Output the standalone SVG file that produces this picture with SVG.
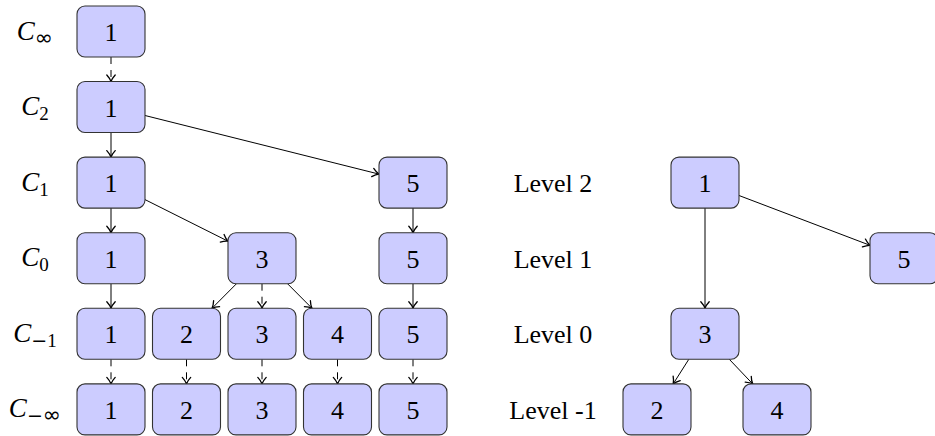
<svg xmlns="http://www.w3.org/2000/svg" width="935" height="436" viewBox="0 0 935 436">
<style>
.n rect{fill:#ccccff;stroke:#333;stroke-width:1.1}
.n text{font-family:"Liberation Serif","Times New Roman",serif;font-size:26px;text-anchor:middle;fill:#000}
.e line{stroke:#000;stroke-width:1;fill:none;marker-end:url(#arr)}
.e line.d{stroke-dasharray:7 6}
.lab{font-family:"Liberation Serif","Times New Roman",serif;font-size:26px;fill:#000;text-anchor:middle}
.cl{font-family:"Liberation Serif","Times New Roman",serif;font-style:italic;font-size:27px;fill:#000;text-anchor:middle}
.sub{font-style:normal;font-size:19px}
.inf{font-family:"DejaVu Sans",sans-serif;font-style:normal;font-size:22px}
</style>
<defs>
<marker id="arr" markerUnits="userSpaceOnUse" markerWidth="14" markerHeight="14" viewBox="-8 -7 14 14" refX="0" refY="0" orient="auto" overflow="visible">
<path d="M-6.5,-4.2 Q-3,-1 0,0 Q-3,1 -6.5,4.2" fill="none" stroke="#000" stroke-width="1.3" stroke-dasharray="none" stroke-linecap="round"/>
</marker>
</defs>
<rect width="935" height="436" fill="#fff"/>

<g id="row-labels">
<text class="cl" x="35" y="39.5">C<tspan class="inf" dy="5">∞</tspan></text>
<text class="cl" x="35" y="115">C<tspan class="sub" dy="5">2</tspan></text>
<text class="cl" x="35" y="190.6">C<tspan class="sub" dy="5">1</tspan></text>
<text class="cl" x="35" y="266.2">C<tspan class="sub" dy="5">0</tspan></text>
<text class="cl" x="35" y="341.8">C<tspan class="inf" dy="5" style="font-size:19px">−</tspan><tspan class="sub">1</tspan></text>
<text class="cl" x="35" y="417.4">C<tspan class="inf" dy="5" style="font-size:19px">−</tspan><tspan class="inf">∞</tspan></text>
</g>

<g id="level-labels">
<text class="lab" x="553" y="192.2">Level 2</text>
<text class="lab" x="553" y="267.8">Level 1</text>
<text class="lab" x="553" y="343.4">Level 0</text>
<text class="lab" x="553" y="419">Level -1</text>
</g>

<g id="connectors" class="e">
<line class="d" x1="111" y1="57" x2="111" y2="81.5"/>
<line x1="111" y1="132.5" x2="111" y2="157.1"/>
<line x1="111" y1="208.1" x2="111" y2="232.7"/>
<line x1="111" y1="283.7" x2="111" y2="308.3"/>
<line x1="145" y1="115.5" x2="379" y2="174.1"/>
<line x1="145" y1="199.6" x2="228" y2="241.2"/>
<line x1="413" y1="208.1" x2="413" y2="232.7"/>
<line x1="413" y1="283.7" x2="413" y2="308.3"/>
<line class="d" x1="262" y1="283.7" x2="262" y2="308.3"/>
<line x1="236.5" y1="283.7" x2="212" y2="308.3"/>
<line x1="287.5" y1="283.7" x2="312" y2="308.3"/>
<line class="d" x1="111" y1="359.3" x2="111" y2="383.9"/>
<line class="d" x1="186.5" y1="359.3" x2="186.5" y2="383.9"/>
<line class="d" x1="262" y1="359.3" x2="262" y2="383.9"/>
<line class="d" x1="337.5" y1="359.3" x2="337.5" y2="383.9"/>
<line class="d" x1="413" y1="359.3" x2="413" y2="383.9"/>
<line x1="705" y1="208.1" x2="705" y2="308.3"/>
<line x1="739" y1="195.5" x2="870" y2="245.3"/>
<line x1="688.8" y1="359.3" x2="673.2" y2="383.9"/>
<line x1="729.3" y1="359.3" x2="752.7" y2="383.9"/>
</g>

<g id="n-inf-1" class="n"><rect x="77" y="6" width="68" height="51" rx="8"/><text x="111" y="41">1</text></g>
<g id="n-2-1" class="n"><rect x="77" y="81.5" width="68" height="51" rx="8"/><text x="111" y="116.5">1</text></g>
<g id="n-1-1" class="n"><rect x="77" y="157.1" width="68" height="51" rx="8"/><text x="111" y="192.1">1</text></g>
<g id="n-1-5" class="n"><rect x="379" y="157.1" width="68" height="51" rx="8"/><text x="413" y="192.1">5</text></g>
<g id="n-0-1" class="n"><rect x="77" y="232.7" width="68" height="51" rx="8"/><text x="111" y="267.7">1</text></g>
<g id="n-0-3" class="n"><rect x="228" y="232.7" width="68" height="51" rx="8"/><text x="262" y="267.7">3</text></g>
<g id="n-0-5" class="n"><rect x="379" y="232.7" width="68" height="51" rx="8"/><text x="413" y="267.7">5</text></g>
<g id="n-m1-1" class="n"><rect x="77" y="308.3" width="68" height="51" rx="8"/><text x="111" y="343.3">1</text></g>
<g id="n-m1-2" class="n"><rect x="152.5" y="308.3" width="68" height="51" rx="8"/><text x="186.5" y="343.3">2</text></g>
<g id="n-m1-3" class="n"><rect x="228" y="308.3" width="68" height="51" rx="8"/><text x="262" y="343.3">3</text></g>
<g id="n-m1-4" class="n"><rect x="303.5" y="308.3" width="68" height="51" rx="8"/><text x="337.5" y="343.3">4</text></g>
<g id="n-m1-5" class="n"><rect x="379" y="308.3" width="68" height="51" rx="8"/><text x="413" y="343.3">5</text></g>
<g id="n-minf-1" class="n"><rect x="77" y="383.9" width="68" height="51" rx="8"/><text x="111" y="418.9">1</text></g>
<g id="n-minf-2" class="n"><rect x="152.5" y="383.9" width="68" height="51" rx="8"/><text x="186.5" y="418.9">2</text></g>
<g id="n-minf-3" class="n"><rect x="228" y="383.9" width="68" height="51" rx="8"/><text x="262" y="418.9">3</text></g>
<g id="n-minf-4" class="n"><rect x="303.5" y="383.9" width="68" height="51" rx="8"/><text x="337.5" y="418.9">4</text></g>
<g id="n-minf-5" class="n"><rect x="379" y="383.9" width="68" height="51" rx="8"/><text x="413" y="418.9">5</text></g>

<g id="t-1" class="n"><rect x="671" y="157.1" width="68" height="51" rx="8"/><text x="705" y="192.1">1</text></g>
<g id="t-5" class="n"><rect x="870" y="232.7" width="68" height="51" rx="8"/><text x="904" y="267.7">5</text></g>
<g id="t-3" class="n"><rect x="671" y="308.3" width="68" height="51" rx="8"/><text x="705" y="343.3">3</text></g>
<g id="t-2" class="n"><rect x="623" y="383.9" width="68" height="51" rx="8"/><text x="657" y="418.9">2</text></g>
<g id="t-4" class="n"><rect x="743" y="383.9" width="68" height="51" rx="8"/><text x="777" y="418.9">4</text></g>
</svg>
